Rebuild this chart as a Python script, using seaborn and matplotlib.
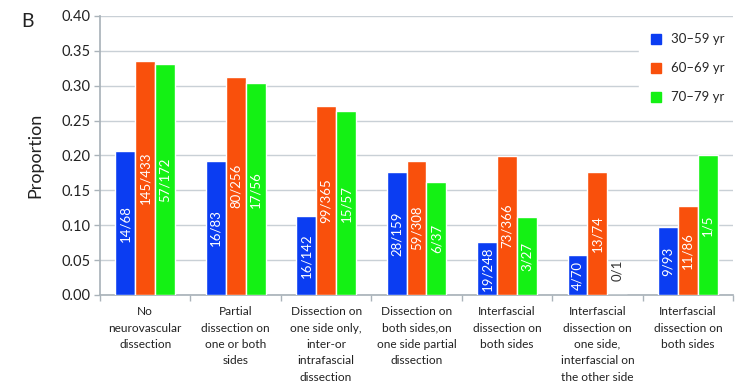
import matplotlib
matplotlib.use("Agg")
import matplotlib.pyplot as plt
import seaborn as sns
import pandas as pd
from matplotlib.lines import Line2D

# Categories of neurovascular dissection
categories = [
    "No\nneurovascular\ndissection",
    "Partial\ndissection on\none or both\nsides",
    "Dissection on\none side only,\ninter-or\nintrafascial\ndissection",
    "Dissection on\nboth sides,on\none side partial\ndissection",
    "Interfascial\ndissection on\nboth sides",
    "Interfascial\ndissection on\none side,\ninterfascial on\nthe other side",
    "Interfascial\ndissection on\nboth sides",
]
age_groups = ["30\u201359 yr", "60\u201369 yr", "70\u201379 yr"]

# Events / totals per age group
num_30_59 = [14, 16, 16, 28, 19, 4, 9]
den_30_59 = [68, 83, 142, 159, 248, 70, 93]
num_60_69 = [145, 80, 99, 59, 73, 13, 11]
den_60_69 = [433, 256, 365, 308, 366, 74, 86]
num_70_79 = [57, 17, 15, 6, 3, 0, 1]
den_70_79 = [172, 56, 57, 37, 27, 1, 5]

colors = ["#0B3DF2", "#F9500C", "#14F114"]

nums = [num_30_59, num_60_69, num_70_79]
dens = [den_30_59, den_60_69, den_70_79]

rows = []
for g, nlist, dlist in zip(age_groups, nums, dens):
    for i, (n, d) in enumerate(zip(nlist, dlist)):
        rows.append({"cat": i, "group": g, "prop": n / d, "label": f"{n}/{d}"})
df = pd.DataFrame(rows)

sns.set_theme(style="white")
plt.rcParams["font.family"] = ["Lato", "DejaVu Sans"]

fig = plt.figure(figsize=(7.36, 3.88), dpi=100)
ax = fig.add_axes([0.1359, 0.2397, 0.8601, 0.7191])

sns.barplot(data=df, x="cat", y="prop", hue="group", hue_order=age_groups,
            palette=colors, width=0.66, gap=0, saturation=1, ax=ax,
            legend=False, errorbar=None, zorder=3)

# Fraction labels centred inside each bar
for container, g in zip(ax.containers, age_groups):
    sub = df[df["group"] == g].reset_index(drop=True)
    for bar, lab, val in zip(container, sub["label"], sub["prop"]):
        x = bar.get_x() + bar.get_width() / 2
        if val == 0:
            ax.text(x, 0.02, lab, rotation=90, ha="center", va="bottom",
                    color="#333333", fontsize=9.5, zorder=4)
        else:
            ax.text(x, val / 2, lab, rotation=90, ha="center", va="center",
                    color="white", fontsize=9.5, zorder=4)

ax.set_ylim(0, 0.40)
ax.set_xlim(-0.5, len(categories) - 0.5)
ax.set_yticks([i * 0.05 for i in range(9)])
ax.set_yticklabels([f"{i * 0.05:.2f}" for i in range(9)], fontsize=10.5,
                   color="#222222")
ax.yaxis.grid(True, color="#C9D0D6", linewidth=1.0, zorder=0)
ax.set_axisbelow(True)

ax.set_xticks(range(len(categories)))
ax.set_xticklabels(categories, fontsize=8.6, color="#222222", linespacing=1.6)
ax.tick_params(axis="x", length=0, pad=8)
ax.tick_params(axis="y", length=4, color="#AAB3BA", width=1, left=True, pad=3)
# category boundary ticks on the x axis
ax.set_xticks([i + 0.5 for i in range(-1, len(categories))], minor=True)
ax.tick_params(axis="x", which="minor", length=4, color="#AAB3BA", width=1,
               bottom=True)

for side in ["top", "right"]:
    ax.spines[side].set_visible(False)
ax.spines["left"].set_color("#AAB3BA")
ax.spines["bottom"].set_color("#AAB3BA")

ax.set_xlabel("")
ax.set_ylabel("Proportion", fontsize=13, color="#222222", labelpad=13)

handles = [Line2D([], [], marker="s", linestyle="none", markersize=7,
                  markerfacecolor=c, markeredgecolor=c) for c in colors]
leg = ax.legend(handles, age_groups, loc="upper right",
                bbox_to_anchor=(1.013, 1.0), frameon=True, fontsize=9.5,
                labelspacing=1.3, handletextpad=0.6, borderpad=0.8,
                handlelength=1.0)
leg.get_frame().set_facecolor("white")
leg.get_frame().set_edgecolor("white")
leg.get_frame().set_alpha(1)
leg.set_zorder(5)

fig.text(0.038, 0.945, "B", fontsize=14, color="#222222",
         ha="center", va="center")

fig.savefig("out.png", dpi=100)
